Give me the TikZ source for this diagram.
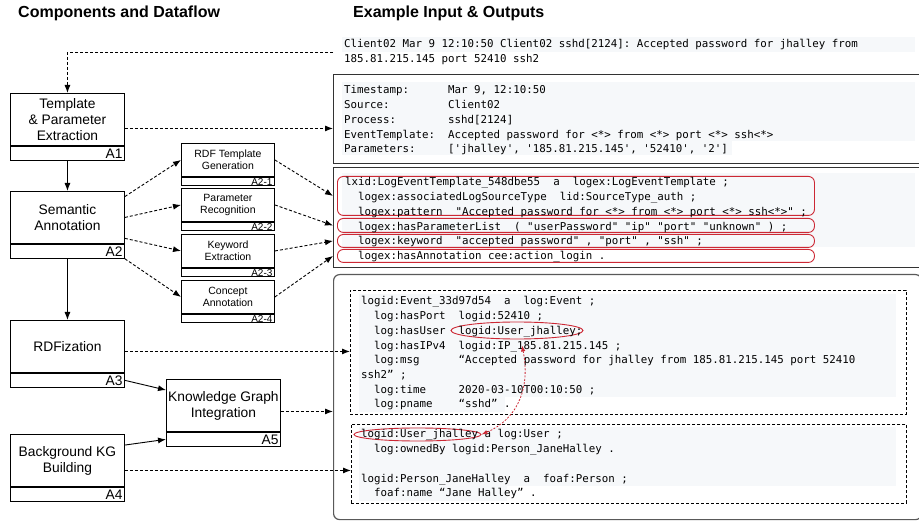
\documentclass[tikz,border=0pt]{standalone}
\usepackage{fontspec}
\setsansfont{Liberation Sans}
\setmonofont{DejaVu Sans Mono}
\usetikzlibrary{arrows.meta,shapes.geometric,positioning}

\definecolor{hlred}{RGB}{204,40,52}
\definecolor{codebg}{RGB}{246,248,250}

\tikzset{
  head/.style={anchor=west,inner sep=0pt,font=\sffamily\bfseries\fontsize{16}{18}\selectfont},
  comp/.style={draw,line width=0.9pt,minimum width=114pt,minimum height=52pt,align=center,inner sep=0pt,font=\sffamily\fontsize{13.8}{16}\selectfont},
  tag/.style={draw,line width=0.9pt,minimum height=14pt,text width=110pt,align=right,inner xsep=2pt,inner ysep=0pt,text height=10pt,text depth=0pt,font=\sffamily\fontsize{13.8}{14}\selectfont},
  subcomp/.style={draw,line width=0.9pt,minimum width=93pt,minimum height=33pt,align=center,inner sep=0pt,font=\sffamily\fontsize{10.5}{12}\selectfont},
  subtag/.style={draw,line width=0.9pt,minimum height=8pt,text width=89pt,align=right,inner xsep=2pt,inner ysep=0pt,text height=7.5pt,text depth=0pt,font=\sffamily\fontsize{10}{10}\selectfont},
  outbox/.style={draw=black!80,line width=1.1pt,anchor=north west,inner sep=0pt,minimum width=588pt},
  inbox/.style={draw,densely dashed,line width=0.8pt,anchor=north west,inner sep=0pt},
  code/.style={anchor=north west,inner sep=0pt,align=left,font=\ttfamily\fontsize{10.8}{14.7}\selectfont},
  hlbox/.style={draw=hlred,line width=0.9pt,rounded corners=6pt,anchor=north west,inner sep=0pt,minimum width=477pt},
  hlell/.style={ellipse,draw=hlred,line width=0.9pt,inner sep=0pt},
  flow/.style={densely dashed,line width=0.9pt,-{Latex[length=8pt,width=6pt]}},
  solidflow/.style={line width=0.9pt,-{Latex[length=8pt,width=6pt]}},
  link/.style={hlred,line width=0.8pt,dash pattern=on 2pt off 1.5pt,{Latex[length=6pt,width=4.5pt]}-{Latex[length=6pt,width=4.5pt]}}
}

\begin{document}
\begin{tikzpicture}[x=1pt,y=-1pt]
\useasboundingbox (0,0) rectangle (919,521);

\node[head] (h1) at (18,13) {Components and Dataflow};
\node[head] (h2) at (353,13) {Example Input \& Outputs};

% components
\foreach \nm/\yy/\txt in {A1/93/{Template\\\& Parameter\\Extraction},
                          A2/191/{Semantic\\Annotation},
                          A3/320/{RDFization},
                          A4/434/{Background KG\\Building}}{
  \node[comp,anchor=north west] (\nm) at (10,\yy) {\txt};
  \node[tag,anchor=north] (\nm tag) at (\nm.south) {\nm};
}
\node[comp,anchor=north west] (A5) at (166,379) {Knowledge Graph\\Integration};
\node[tag,anchor=north] (A5tag) at (A5.south) {A5};

\foreach \i/\yy/\txt in {1/143/{RDF Template\\Generation},
                         2/188/{Parameter\\Recognition},
                         3/234/{Keyword\\Extraction},
                         4/280/{Concept\\Annotation}}{
  \node[subcomp,anchor=north west] (S\i) at (181,\yy) {\txt};
  \node[subtag,anchor=north] (S\i tag) at (S\i.south) {A2-\i};
}

% code backgrounds
\foreach \xa/\ya/\xb/\yb in {342/37/915/52, 342/82/915/141, 342/141/732/155,
                             342/173/915/247, 359/294/896/397, 359/397/505/412,
                             359/427/896/486, 359/486/507/501}
  \fill[codebg] (\xa,\ya) rectangle (\xb,\yb);

% example boxes
\node[outbox,minimum height=89pt] (parse) at (333,74) {};
\node[outbox,minimum height=100pt] (tmpl) at (333,167) {};
\node[outbox,draw=black!65,line width=1.2pt,rounded corners=6pt,minimum height=245pt] (kg) at (333,274) {};
\node[inbox,minimum width=556pt,minimum height=124pt] (ev) at (350,290) {};
\node[inbox,minimum width=555pt,minimum height=79pt] (usr) at (351,424) {};

\node[hlbox,minimum height=39pt] (hl1) at (337,176) {};
\node[hlbox,minimum height=14pt] (hl2) at (337,218) {};
\node[hlbox,minimum height=13pt] (hl3) at (337,234) {};
\node[hlbox,minimum height=13pt] (hl4) at (337,249) {};
\node[hlell,minimum width=132pt,minimum height=17pt] (u1) at (517,330.5) {};
\node[hlell,minimum width=127pt,minimum height=13pt] (u2) at (417.5,434.5) {};

% texts
\node[code] (raw) at (344,39.5) {Client02 Mar 9 12:10:50 Client02 sshd[2124]: Accepted password for jhalley from\\185.81.215.145 port 52410 ssh2};
\node[code] (parsetxt) at (344,85.5) {Timestamp:~~~~~~Mar 9, 12:10:50\\
Source:~~~~~~~~~Client02\\
Process:~~~~~~~~sshd[2124]\\
EventTemplate:~~Accepted password for <*> from <*> port <*> ssh<*>\\
Parameters:~~~~~['jhalley', '185.81.215.145', '52410', '2']};
\node[code] (tmpltxt) at (345,177.5) {lxid:LogEventTemplate\_548dbe55~~a~~logex:LogEventTemplate ;\\
~~logex:associatedLogSourceType~~lid:SourceType\_auth ;\\
~~logex:pattern~~"Accepted password for <*> from <*> port <*> ssh<*>" ;\\
~~logex:hasParameterList~~( "userPassword" "ip" "port" "unknown" ) ;\\
~~logex:keyword~~"accepted password" , "port" , "ssh" ;\\
~~logex:hasAnnotation cee:action\_login .};
\node[code] (evtxt) at (361,296.5) {logid:Event\_33d97d54~~a~~log:Event ;\\
~~log:hasPort~~logid:52410 ;\\
~~log:hasUser~~logid:User\_jhalley;\\
~~log:hasIPv4~~logid:IP\_185.81.215.145 ;\\
~~log:msg~~~~~~“Accepted password for jhalley from 185.81.215.145 port 52410\\
ssh2” ;\\
~~log:time~~~~~2020-03-10T00:10:50 ;\\
~~log:pname~~~~“sshd” .};
\node[code] (usrtxt) at (361,429.5) {logid:User\_jhalley a log:User ;\\
~~log:ownedBy logid:Person\_JaneHalley .\\
~\\
logid:Person\_JaneHalley~~a~~foaf:Person ;\\
~~foaf:name “Jane Halley” .};

% dataflow
\draw[flow] ([xshift=-11pt]raw.west) -| (A1.north);
\draw[flow] ([yshift=-9pt]A1.east) -- ([yshift=-9pt]A1.east -| parse.west);
\draw[solidflow] (A1tag.south) -- (A2.north);
\draw[solidflow] (A2tag.south) -- (A3.north);
\draw[flow] (A2.20) -- (S1.west);
\draw[flow] (A2.east) -- (S2.west);
\draw[flow] (A2.-20) -- (S3.west);
\draw[flow] (A2tag.south east) -- (S4.west);
\foreach \i in {1,...,4}
  \draw[flow] (S\i.east) -- (hl\i.west -| tmpl.west);
\draw[flow] ([yshift=-5pt]A3.east) -- ([yshift=-5pt]A3.east -| ev.west);
\draw[solidflow] (A3tag.east) -- (A5.165);
\draw[solidflow] (A4.15) -- (A5tag.west);
\draw[flow] ([yshift=-6pt]A5.east) -- ([yshift=-6pt]A5.east -| kg.west);
\draw[flow] ([yshift=-10pt]A4.east) -- ([yshift=-10pt]A4.east -| usr.west);
\draw[link] ([xshift=5pt,yshift=-6pt]u1.south) .. controls (530,385) and (520,418) .. (u2.east);
\end{tikzpicture}
\end{document}
